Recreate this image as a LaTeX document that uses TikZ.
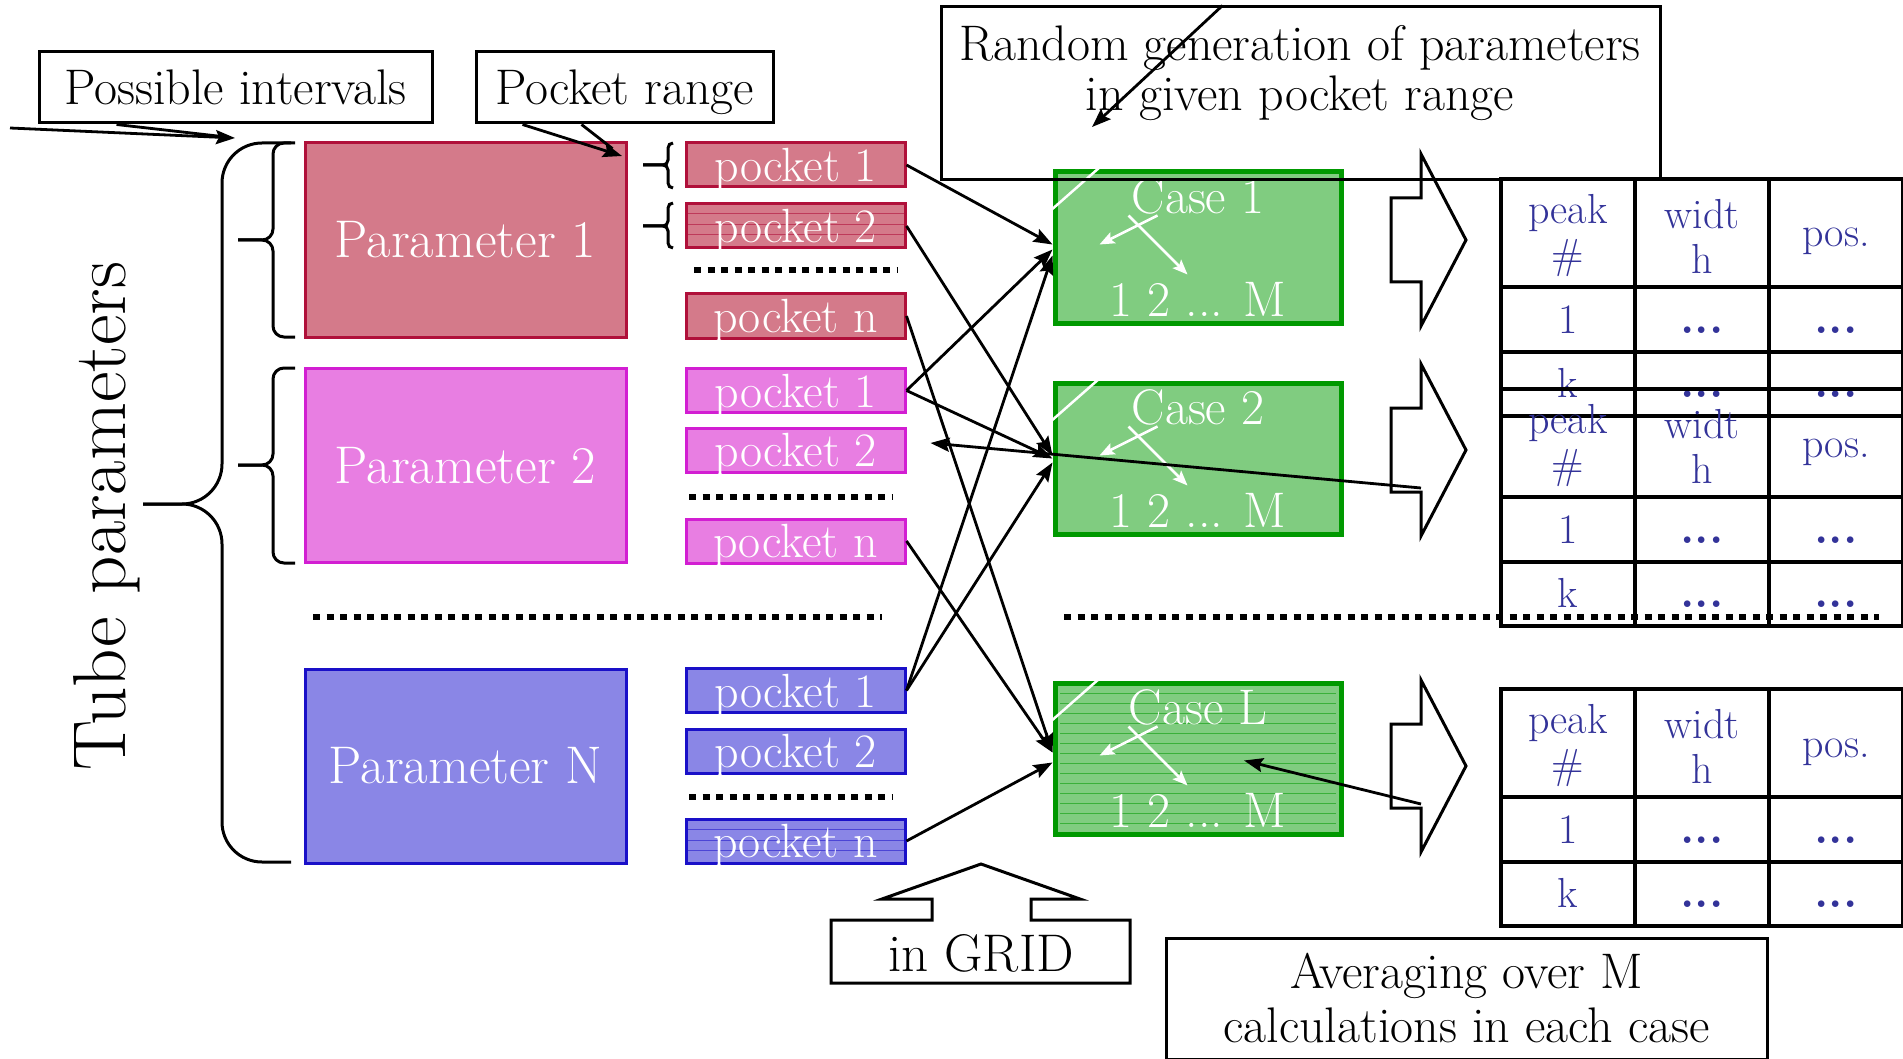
\documentclass[tikz,border=0pt]{standalone}
\usepackage{fontspec}
\usepackage{tikz}
\usetikzlibrary{arrows.meta}

\definecolor{parred}{RGB}{212,122,138}
\definecolor{parredline}{RGB}{176,16,58}
\definecolor{parpink}{RGB}{232,126,226}
\definecolor{parpinkline}{RGB}{210,30,210}
\definecolor{parblue}{RGB}{138,134,230}
\definecolor{parblueline}{RGB}{26,16,200}
\definecolor{casegreen}{RGB}{128,204,128}
\definecolor{caseline}{RGB}{0,153,0}
\definecolor{tabtext}{RGB}{51,51,153}

\begin{document}
\begin{tikzpicture}[x=1pt, y=-1pt,
    every node/.style = {inner sep=0pt},
    lab/.style = {shape=rectangle, draw, line width=3pt, align=center,
      font=\fontsize{50}{54}\selectfont},
    parbox/.style = {shape=rectangle, draw, line width=3pt,
      minimum width=321pt, minimum height=194pt, text=white,
      font=\fontsize{53}{58}\selectfont},
    pocket/.style = {shape=rectangle, draw, line width=3pt,
      minimum width=219pt, minimum height=44pt, text=white, text depth=0pt,
      font=\fontsize{48}{52}\selectfont},
    pockethatch/.style = {path picture={
      \foreach \hy in {10,21,31}
        \draw[hatch, draw=#1] ([yshift=-\hy pt]path picture bounding box.north west)
          -- ([yshift=-\hy pt]path picture bounding box.north east);}},
    casehatch/.style = {path picture={
      \foreach \hy in {10,20,...,140}
        \draw[hatch, draw=#1] ([shift={(5,\hy)}]path picture bounding box.north west)
          -- ([shift={(-5,\hy)}]path picture bounding box.north east);}},
    casebox/.style = {shape=rectangle, draw=caseline, fill=casegreen,
      line width=5pt, minimum width=286pt, minimum height=151pt,
      text=white, align=center, font=\fontsize{50}{52}\selectfont},
    cell/.style = {text=tabtext, align=center, font=\fontsize{42}{45}\selectfont},
    dotscell/.style = {text=tabtext, font=\fontsize{46}{50}\selectfont\bfseries},
    link/.style = {line width=2.8pt, -{Stealth[length=19pt, width=14pt, inset=3pt]}},
    whitelink/.style = {white, line width=2.5pt, -{Stealth[length=15pt, width=12pt, inset=3pt]}},
    dotrow/.style = {line width=6pt, dash pattern=on 7pt off 6.5pt},
    hatch/.style = {line width=1pt},
    bigarrow/.style = {line width=3pt, line join=miter},
    tabline/.style = {line width=3.2pt},
    brace/.style = {line width=3pt}]

\useasboundingbox (0,0) rectangle (1903,1059);

% side title
\node[rotate=90, font=\fontsize{75}{80}\selectfont] (title) at (107,516) {Tube parameters};

% braces
\draw[brace, rounded corners=40pt] (291,143) -- (222,143) -- (222,504) -- (143,504);
\draw[brace, rounded corners=40pt] (291,862) -- (222,862) -- (222,504) -- (143,504);
\draw[brace, rounded corners=11pt] (295,143) -- (273,143) -- (273,240) -- (238,240);
\draw[brace, rounded corners=11pt] (295,337) -- (273,337) -- (273,240) -- (238,240);
\draw[brace, rounded corners=11pt] (295,368) -- (273,368) -- (273,465) -- (238,465);
\draw[brace, rounded corners=11pt] (295,563) -- (273,563) -- (273,465) -- (238,465);
\draw[brace, rounded corners=5pt] (673,143) -- (668,143) -- (668,165) -- (643,165);
\draw[brace, rounded corners=5pt] (673,188) -- (668,188) -- (668,165) -- (643,165);
\draw[brace, rounded corners=5pt] (673,203) -- (668,203) -- (668,226) -- (643,226);
\draw[brace, rounded corners=5pt] (673,248) -- (668,248) -- (668,226) -- (643,226);

% parameters
\node[parbox, fill=parred, draw=parredline] (par1) at (465.5,240) {Parameter 1};
\node[parbox, fill=parpink, draw=parpinkline] (par2) at (465.5,465.5) {Parameter 2};
\node[parbox, fill=parblue, draw=parblueline] (parN) at (465.5,766) {Parameter N};

% pockets
\node[pocket, fill=parred, draw=parredline] (pk11) at (795.5,165) {pocket 1};
\node[pocket, fill=parred, draw=parredline, pockethatch=parredline!60!parred] (pk12) at (795.5,226) {pocket 2};
\node[pocket, fill=parred, draw=parredline] (pk1n) at (795.5,316) {pocket n};
\node[pocket, fill=parpink, draw=parpinkline] (pk21) at (795.5,390.5) {pocket 1};
\node[pocket, fill=parpink, draw=parpinkline] (pk22) at (795.5,450) {pocket 2};
\node[pocket, fill=parpink, draw=parpinkline] (pk2n) at (795.5,541) {pocket n};
\node[pocket, fill=parblue, draw=parblueline] (pkN1) at (795.5,690.5) {pocket 1};
\node[pocket, fill=parblue, draw=parblueline] (pkN2) at (795.5,751) {pocket 2};
\node[pocket, fill=parblue, draw=parblueline, pockethatch=parblueline!55!parblue] (pkNn) at (795.5,841) {pocket n};

% dots between pockets
\draw[dotrow] (694,270) -- (898,270);
\draw[dotrow] (689,497) -- (893,497);
\draw[dotrow] (689,797) -- (893,797);

% cases
\node[casebox] (case1) at (1198,247.5) {Case 1\\[51pt]1 2 ... M};
\node[casebox] (case2) at (1198,458.5) {Case 2\\[51pt]1 2 ... M};
\node[casebox, casehatch=caseline!55!casegreen] (caseL) at (1198,758.5) {Case L\\[51pt]1 2 ... M};

\foreach \c in {case1,case2,caseL} {
  \draw[white, line width=2.5pt] ([shift={(47,-2)}]\c.north west) -- ([shift={(-3,42)}]\c.north west);
  \draw[whitelink] ([shift={(105,46)}]\c.north west) -- ([shift={(47,75)}]\c.north west);
  \draw[whitelink] ([shift={(76,46)}]\c.north west) -- ([shift={(135,105)}]\c.north west);
}

% pockets to cases
\draw[link] (pk11.east) -- ([yshift=3pt]case1.west);
\draw[link] (pk21.east) -- ([yshift=-2pt]case1.west);
\draw[link] (pkN1.east) -- ([yshift=-8pt]case1.west);
\draw[link] (pk12.east) -- ([yshift=3pt]case2.west);
\draw[link] (pk21.east) -- (case2.west);
\draw[link] (pkN1.east) -- ([yshift=-4pt]case2.west);
\draw[link] (pk1n.east) -- ([yshift=6pt]caseL.west);
\draw[link] (pk2n.east) -- ([yshift=6pt]caseL.west);
\draw[link] (pkNn.east) -- ([yshift=-4pt]caseL.west);

% top labels
\node[lab, text depth=0pt, minimum width=393pt, minimum height=71pt] (ivbox) at (235.5,87.5) {Possible intervals};
\node[lab, text depth=0pt, minimum width=297pt, minimum height=71pt] (rngbox) at (624.5,87.5) {Pocket range};
\node[lab, minimum width=719pt, minimum height=173pt] (randbox) at (1300.5,93.5) {};
\node[align=center, font=\fontsize{50}{50}\selectfont] (randtxt) at (1300,73)
  {Random generation of parameters\\in given pocket range};

\coordinate (ivtail) at (10,128);
\coordinate (ivtip) at (235,138);
\draw[link] (ivtail) -- (ivtip);
\draw[line width=2.8pt, shorten >=12pt] ([xshift=79pt]ivbox.south west) -- (ivtip);

\coordinate (rngtip) at (622,156);
\draw[link] ([xshift=48pt]rngbox.south west) -- (rngtip);
\draw[line width=2.8pt, shorten >=12pt] ([xshift=107pt]rngbox.south west) -- (rngtip);

\coordinate (rndtip) at (1092,127);
\draw[link] ([xshift=283pt]randbox.north west) -- (rndtip);

% block arrows to the tables
\foreach \ty/\an in {240/1, 450/2, 766/3} {
  \draw[bigarrow] (1391,\ty-42) -- (1421,\ty-42) -- (1421,\ty-86) -- (1466,\ty)
    -- (1421,\ty+86) -- (1421,\ty+42) -- (1391,\ty+42) -- cycle;
  \coordinate (foot\an) at (1421,\ty+38);
}
\draw[link] (foot2) -- ([xshift=24pt,yshift=7pt]pk22.east);
\draw[link] (foot3) -- ([xshift=46pt,yshift=-2pt]caseL.center);

% result tables
\foreach \ty in {179,389,689} {
  \draw[tabline] (1501,\ty) rectangle (1903,\ty+237);
  \draw[tabline] (1501,\ty+108) -- (1903,\ty+108)
                 (1501,\ty+173) -- (1903,\ty+173)
                 (1635,\ty) -- (1635,\ty+237)
                 (1769,\ty) -- (1769,\ty+237);
  \node[cell] (hpeak\ty) at (1568,\ty+57) {peak\\\#};
  \node[cell] (hwidth\ty) at (1702,\ty+57) {widt\\h};
  \node[cell, anchor=base] (hpos\ty) at (1836,\ty+68) {pos.};
  \node[cell, anchor=base] (one\ty) at (1568,\ty+154) {1};
  \node[dotscell, anchor=base] (onew\ty) at (1702,\ty+154) {...};
  \node[dotscell, anchor=base] (onep\ty) at (1836,\ty+154) {...};
  \node[cell, anchor=base] (kay\ty) at (1568,\ty+218) {k};
  \node[dotscell, anchor=base] (kayw\ty) at (1702,\ty+218) {...};
  \node[dotscell, anchor=base] (kayp\ty) at (1836,\ty+218) {...};
}

% separators
\draw[dotrow] (313,617) -- (882,617);
\draw[dotrow] (1064,617) -- (1879,617);

% grid callout
\draw[bigarrow] (831,920) -- (932,920) -- (932,899) -- (882,899) -- (981,864)
  -- (1080,899) -- (1031,899) -- (1031,920) -- (1130,920) -- (1130,983)
  -- (831,983) -- cycle;
\node[font=\fontsize{53}{56}\selectfont] (gridtxt) at (981,953) {in GRID};

\node[lab, minimum width=601pt, minimum height=121pt] (avgbox) at (1466.5,998.5)
  {Averaging over M\\calculations in each case};
\end{tikzpicture}
\end{document}
